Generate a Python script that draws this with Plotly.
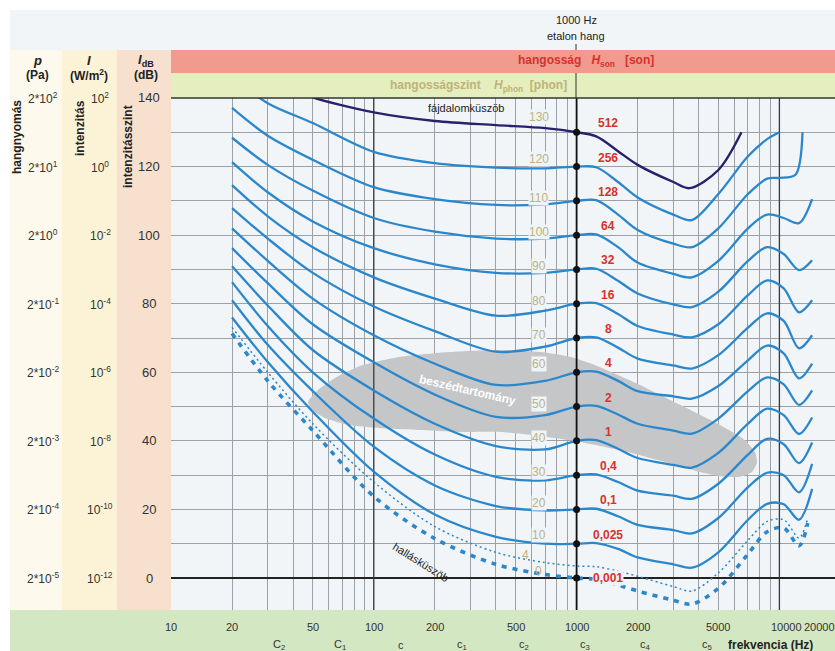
import math
import plotly.graph_objects as go

# ---------------- data ----------------
freq_std = [20, 30, 50, 100, 200, 400, 700, 1000, 1250, 1600, 2000, 3000, 3700, 5000, 7000, 8700, 10500, 12500, 14500]
freq_130 = [45, 50, 100, 200, 400, 700, 1000, 1250, 1600, 2000, 3000, 3600, 5000, 6500]
freq_120 = [20, 30, 50, 100, 200, 400, 700, 1000, 1250, 1600, 2000, 3000, 3700, 5000, 7000, 8700, 10000]
freq_110 = [20, 30, 50, 100, 200, 400, 700, 1000, 1250, 1600, 2000, 3000, 3700, 5000, 7000, 8700, 10000, 12000, 13000]
freq_thr = [20, 30, 50, 100, 200, 400, 700, 1000, 1250, 1600, 2000, 3000, 3700, 5000, 7000, 8700, 10500, 12500, 13800]

phon_130 = [141.5, 140.2, 135.8, 133.3, 132.1, 131.2, 130, 128.8, 124.5, 120.5, 115.5, 113.7, 119, 130]
phon_120 = [146, 138.5, 132.7, 124.3, 121, 119.7, 119.5, 120, 119.8, 115.5, 111, 106, 104.4, 112, 123, 128, 130]
phon_110 = [137.1, 129, 122, 114, 110.5, 108.8, 109, 110, 110.2, 106, 101.5, 97.5, 96.5, 102, 112, 116.5, 116.7, 117.6, 130]
phon_100 = [128.4, 120.5, 113, 105, 101, 99, 99, 100, 100.2, 96.5, 92, 88.7, 87.7, 92.5, 102, 106, 105, 103.5, 110.5]
phon_90 = [121.3, 112.5, 104, 96.2, 91.5, 89, 89, 90, 90.2, 86.7, 83, 79.8, 79, 83.5, 92.5, 96.5, 94.5, 89.8, 92.7]
phon_80 = [114.6, 105.5, 96.5, 87.7, 81.5, 76.5, 78, 80, 80.2, 77, 73.5, 71, 70.2, 74, 82.5, 86.8, 84.5, 77.5, 81]
phon_70 = [107.9, 99, 89, 79.2, 72, 66, 67.5, 70, 70.2, 67.2, 64, 62, 61.1, 65, 73, 77.2, 75, 67, 70.8]
phon_60 = [102, 92.5, 81.5, 70.8, 62.5, 56.3, 57.5, 60, 60.2, 57.5, 54.5, 53, 52.3, 56, 63.5, 67.8, 65.5, 58.2, 62.5]
phon_50 = [96.2, 86, 74, 62.9, 53.5, 47, 47.5, 50, 50.2, 47.7, 45, 43, 42.1, 46.5, 54.5, 58.5, 56.5, 50.5, 54.7]
phon_40 = [90.9, 79.5, 66.5, 54.7, 45, 38.5, 37.5, 40, 40.2, 37.7, 35, 33, 32.2, 36.5, 45, 49.4, 47.5, 42, 46.8]
phon_30 = [86.3, 73.5, 60, 46.5, 36, 29.5, 28.5, 30, 30.2, 28, 25.5, 24, 23.1, 27.5, 36, 40.6, 39, 33.5, 39.5]
phon_20 = [81, 68, 54.5, 38.3, 27, 21, 19.7, 20, 20.2, 18, 15.5, 14, 13, 17.5, 26.5, 30.7, 30, 25, 33.3]
phon_10 = [76, 63, 48.5, 31, 18.5, 12, 10, 10, 10.2, 8.5, 6, 4, 3, 7.5, 17, 21.6, 21.5, 17, 26]
phon_4 = [73.1, 60, 45, 28, 15, 7.5, 4.5, 3.5, 3.3, 2, 0.5, -2.5, -3.8, 1.5, 11, 16.5, 17, 11.7, 17.5]
phon_0 = [71.3, 57.5, 43, 23.8, 11.5, 4, 1, 0, -0.4, -2, -3.8, -6.5, -7.6, -3, 7, 13.5, 14.6, 9.4, 16]

speech_freq = [47.4, 53.1, 64.4, 85.5, 134.7, 237.6, 419, 660, 928, 1305, 2054, 3235, 5095, 6768, 7580, 7755,
               7325, 6393, 5095, 4059, 3235, 2301, 1637, 1039, 660, 419, 266, 169, 107.3, 76.3, 57.4, 49.6]
speech_db = [51.3, 54.8, 58.3, 61.8, 64.5, 65.9, 66.5, 65.9, 64.5, 61.5, 56.3, 50.5, 44.6, 40.2, 36.7, 33.8,
             30.9, 29.5, 29.7, 30.9, 32.7, 35.0, 37.3, 39.7, 41.4, 42.6, 42.6, 43.2, 43.7, 44.6, 46.7, 49.0]

ref_levels = [0, 10, 20, 30, 40, 50, 60, 70, 80, 90, 100, 110, 120, 130]
son_labels = ["0,001", "0,025", "0,1", "0,4", "1", "2", "4", "8", "16", "32", "64", "128", "256", "512"]
phon_label_levels = [0, 4, 10, 20, 30, 40, 50, 60, 70, 80, 90, 100, 110, 120, 130]

x_tick_values = [10, 20, 50, 100, 200, 500, 1000, 2000, 5000, 10000, 20000]
note_names = ["C<sub>2</sub>", "C<sub>1</sub>", "c", "c<sub>1</sub>", "c<sub>2</sub>", "c<sub>3</sub>", "c<sub>4</sub>", "c<sub>5</sub>"]
note_freqs = [32.7, 65.4, 130.8, 261.6, 523.3, 1046.5, 2093, 4186]

db_ticks = [140, 120, 100, 80, 60, 40, 20, 0]
pressure_labels = ["2*10<sup>2</sup>", "2*10<sup>1</sup>", "2*10<sup>0</sup>", "2*10<sup>-1</sup>",
                   "2*10<sup>-2</sup>", "2*10<sup>-3</sup>", "2*10<sup>-4</sup>", "2*10<sup>-5</sup>"]
intensity_labels = ["10<sup>2</sup>", "10<sup>0</sup>", "10<sup>-2</sup>", "10<sup>-4</sup>",
                    "10<sup>-6</sup>", "10<sup>-8</sup>", "10<sup>-10</sup>", "10<sup>-12</sup>"]

# ---------------- layout geometry ----------------
W, H = 835, 651
ML, MR, MT, MB = 171, 0, 98, 41
PW, PH = W - ML - MR, H - MT - MB
DEC = 202.8
XMIN = 1.0
XMAX = 1.0 + PW / DEC
YMIN, YMAX = -9.33, 140


def PX(px):
    return (px - ML) / PW


def PY(py):
    return (H - MB - py) / PH


FONT = "Arial, Liberation Sans, sans-serif"
BLUE = "#2b87cc"
NAVY = "#2a206c"
RED = "#d6322b"
KHAKI = "#bfb27c"
PLOTBG = "#edf5fb"

fig = go.Figure()

# speech region
fig.add_trace(go.Scatter(x=speech_freq + speech_freq[:1], y=speech_db + speech_db[:1],
                         mode="lines", fill="toself", fillcolor="#c4c6c8",
                         line=dict(color="#c4c6c8", width=0, shape="spline", smoothing=0.6),
                         hoverinfo="skip"))

# dark reference verticals
for f, c, w in [(100, "#3a3a3a", 1.3), (10000, "#3a3a3a", 1.3), (1000, "#111111", 1.8)]:
    fig.add_trace(go.Scatter(x=[f, f], y=[YMIN, YMAX], mode="lines",
                             line=dict(color=c, width=w), hoverinfo="skip"))

# equal loudness contours
solid = [
    (freq_std, phon_10), (freq_std, phon_20), (freq_std, phon_30), (freq_std, phon_40),
    (freq_std, phon_50), (freq_std, phon_60), (freq_std, phon_70), (freq_std, phon_80),
    (freq_std, phon_90), (freq_std, phon_100), (freq_110, phon_110), (freq_120, phon_120),
]
for fx, vy in solid:
    fig.add_trace(go.Scatter(x=fx, y=vy, mode="lines",
                             line=dict(color=BLUE, width=2.3, shape="spline", smoothing=0.9),
                             hoverinfo="skip"))

fig.add_trace(go.Scatter(x=freq_130, y=phon_130, mode="lines",
                         line=dict(color=NAVY, width=2.4, shape="spline", smoothing=0.9),
                         hoverinfo="skip"))
fig.add_trace(go.Scatter(x=freq_thr, y=phon_4, mode="lines",
                         line=dict(color=BLUE, width=1.5, dash="2px,3px", shape="spline", smoothing=0.9),
                         hoverinfo="skip"))
fig.add_trace(go.Scatter(x=freq_thr, y=phon_0, mode="lines",
                         line=dict(color=BLUE, width=3.6, dash="5px,6px", shape="spline", smoothing=0.9),
                         hoverinfo="skip"))

# 1000 Hz reference dots
fig.add_trace(go.Scatter(x=[1000] * len(ref_levels), y=ref_levels, mode="markers",
                         marker=dict(color="#111111", size=7), hoverinfo="skip"))

ann = []


def A(text, x, y, xref="paper", yref="paper", size=11, color="#333333", angle=0,
      xanchor="center", yanchor="middle", **kw):
    ann.append(dict(text=text, x=x, y=y, xref=xref, yref=yref, showarrow=False,
                    font=dict(family=FONT, size=size, color=color), textangle=angle,
                    xanchor=xanchor, yanchor=yanchor, **kw))


# son labels
for lvl, s in zip(ref_levels, son_labels):
    if lvl == 0:
        A("<b>%s</b>" % s, math.log10(1430), lvl, "x", "y", size=12, color=RED,
          bgcolor=PLOTBG, borderpad=0)
    else:
        A("<b>%s</b>" % s, math.log10(1430), lvl, "x", "y", size=12, color=RED, yshift=9)

# phon labels (small upward nudges as in the original artwork)
phon_shift = {130: 15, 120: 8, 60: 8, 20: 6, 10: 9, 4: 9, 0: 7}
for lvl in phon_label_levels:
    fx = 560 if lvl == 4 else 650
    A(str(lvl), math.log10(fx), lvl, "x", "y", size=12, color=KHAKI, yshift=phon_shift.get(lvl, 3),
      bgcolor=PLOTBG if lvl not in (0, 4) else None, borderpad=0)

A("fájdalomküszöb", math.log10(285), 137.0, "x", "y", size=11, color="#222222")
A("hallásküszöb", math.log10(170), 4.6, "x", "y", size=11, color="#222222", angle=32)
A("<b>beszédtartomány</b>", math.log10(291), 54.8, "x", "y", size=12, color="#ffffff", angle=13)

# bottom axis labels
for v in x_tick_values:
    px = ML + (math.log10(v) - 1) * DEC
    if v == 10000:
        px = 786
    if v == 20000:
        px = 819
    A(str(v), PX(px), PY(627), size=11, color="#333333")
for n, f in zip(note_names, note_freqs):
    px = ML + (math.log10(f) - 1) * DEC
    A(n, PX(px + 4), PY(645), size=11, color="#333333")
A("<b>frekvencia (Hz)</b>", PX(770), PY(645), size=12, color="#222222")

# left scales
for db, p, i in zip(db_ticks, pressure_labels, intensity_labels):
    yy = PY(578 - db * 3.4286)
    A(str(db), PX(149), yy, size=13, color="#333333")
    A(p, PX(43), yy, size=12, color="#333333")
    A(i, PX(100), yy, size=12, color="#333333")

A("<b><i>p</i></b>", PX(37), PY(60), size=13, color="#222222")
A("<b>(Pa)</b>", PX(37), PY(75), size=12, color="#222222")
A("<b><i>I</i></b>", PX(89), PY(60), size=13, color="#222222")
A("<b>(W/m<sup>2</sup>)</b>", PX(89), PY(75), size=12, color="#222222")
A("<b><i>I</i><sub>dB</sub></b>", PX(146), PY(60), size=13, color="#222222")
A("<b>(dB)</b>", PX(146), PY(75), size=12, color="#222222")
A("<b>hangnyomás</b>", PX(17), PY(137), size=12, color="#222222", angle=-90)
A("<b>intenzitás</b>", PX(80), PY(128), size=12, color="#222222", angle=-90)
A("<b>intenzitásszint</b>", PX(128), PY(147), size=12, color="#222222", angle=-90)

# header bands text
A("<b>hangosság</b>   <b><i>H</i><sub>son</sub></b>   <b>[son]</b>", PX(586), PY(61), size=12, color=RED)
A("<b>hangosságszint</b>    <b><i>H</i><sub>phon</sub></b>  <b>[phon]</b>", PX(478), PY(86), size=12, color=KHAKI)
A("1000 Hz", PX(576), PY(20), size=11, color="#222222")
A("etalon hang", PX(576), PY(36), size=11, color="#222222")

shapes = []


def R(x0, y0, x1, y1, color):
    shapes.append(dict(type="rect", xref="paper", yref="paper", x0=PX(x0), x1=PX(x1),
                       y0=PY(y1), y1=PY(y0), fillcolor=color, line=dict(width=0), layer="below"))


R(10, 10, 835, 651, "#f1f5f8")
R(10, 50, 62, 610, "#fdf9ec")
R(62, 50, 117, 610, "#fcf3d7")
R(117, 50, 171, 610, "#f7e1ce")
R(171, 50, 835, 73, "#f19b8f")
R(171, 73, 835, 98, "#e4efbd")
R(10, 610, 835, 651, "#d3e7c2")
shapes.append(dict(type="line", xref="paper", yref="paper", x0=0, x1=1, y0=1, y1=1,
                   line=dict(color="#333333", width=1.5), layer="above"))
shapes.append(dict(type="line", xref="paper", yref="paper", x0=PX(576), x1=PX(576),
                   y0=PY(73), y1=PY(98), line=dict(color="#333333", width=1), layer="above"))
shapes.append(dict(type="line", xref="paper", yref="paper", x0=PX(576), x1=PX(576),
                   y0=PY(44), y1=PY(50), line=dict(color="#333333", width=1), layer="above"))

grid_x = [v * m for m in (10, 100, 1000) for v in range(2, 10)] + [100, 1000, 10000]
grid_x = [g for g in grid_x if g >= 20]

fig.update_layout(
    width=W, height=H, autosize=False,
    margin=dict(l=ML, r=MR, t=MT, b=MB, pad=0),
    paper_bgcolor="#ffffff", plot_bgcolor=PLOTBG,
    showlegend=False,
    font=dict(family=FONT, size=12, color="#333333"),
    xaxis=dict(type="log", range=[XMIN, XMAX], tickvals=grid_x, showticklabels=False,
               showgrid=True, gridcolor="#9ba1a6", gridwidth=1, ticks="", zeroline=False,
               showline=False, fixedrange=True),
    yaxis=dict(range=[YMIN, YMAX], tickvals=list(range(10, 140, 10)), showticklabels=False,
               showgrid=True, gridcolor="#9ba1a6", gridwidth=1, ticks="",
               zeroline=True, zerolinecolor="#222222", zerolinewidth=1.6,
               showline=False, fixedrange=True),
    annotations=ann,
    shapes=shapes,
)

fig.write_html("out.html", config={"displayModeBar": False},
               post_script="document.body.style.margin='0';document.body.style.overflow='hidden';")
